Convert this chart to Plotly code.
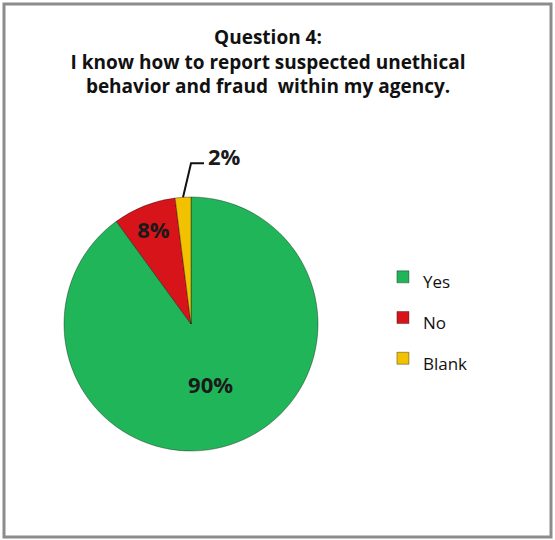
import math
import plotly.graph_objects as go

categories = ["Yes", "No", "Blank"]
values = [90, 8, 2]
colors = ["#21b559", "#d8141b", "#f2c100"]
title_lines = ["Question 4:", "I know how to report suspected unethical", "behavior and fraud  within my agency."]

W, H = 555, 540
cx, cy, r = 191, 324, 127  # pie placement (pixels)

dom_x = [(cx - r) / W, (cx + r) / W]
dom_y = [1 - (cy + r) / H, 1 - (cy - r) / H]

label_font = dict(family="Open Sans", size=22, color="#1a1a1a", weight="bold")

fig = go.Figure()
fig.add_trace(go.Pie(
    labels=[f'<span style="font-size:17px">{c}</span>' for c in categories],
    values=values,
    sort=False,
    direction="clockwise",
    rotation=0,
    marker=dict(colors=colors, line=dict(color="rgba(0,0,0,0.35)", width=1)),
    texttemplate=["%{value}%", "%{value}%", ""],
    textposition="inside",
    insidetextorientation="horizontal",
    textfont=label_font,
    domain=dict(x=dom_x, y=dom_y),
    hoverinfo="skip",
))

# leader line + label for the small "Blank" slice, derived from the data
total = sum(values)
start = sum(values[:2]) / total
mid = (start + values[2] / total / 2) * 2 * math.pi
ex = cx + r * math.sin(mid)
ey = cy - r * math.cos(mid)
kx, ky = ex + 8, ey - 34
hx = kx + 13
path = f"M {ex/W},{1-ey/H} L {kx/W},{1-ky/H} L {hx/W},{1-ky/H}"
fig.add_shape(type="path", xref="paper", yref="paper", path=path,
              line=dict(color="#111111", width=2))
fig.add_annotation(x=(hx + 2) / W, y=1 - (ky - 7) / H, xref="paper", yref="paper",
                   text=f"<b>{values[2]}%</b>", showarrow=False, xanchor="left", yanchor="middle",
                   font=label_font)

# outer frame
fig.add_shape(type="rect", xref="paper", yref="paper",
              x0=4 / W, x1=551 / W, y0=1 - 537 / H, y1=1 - 4 / H,
              line=dict(color="#8c8c8c", width=3))

fig.update_layout(
    width=W, height=H,
    margin=dict(l=0, r=0, t=0, b=0),
    paper_bgcolor="white",
    plot_bgcolor="white",
    title=dict(
        text="<b>" + "<br>".join(title_lines) + "</b>",
        x=268 / W, xanchor="center",
        y=1 - 44 / H, yanchor="top",
        font=dict(family="Open Sans", size=19, color="#111111"),
    ),
    legend=dict(
        x=0.69, xanchor="left",
        y=1 - 318 / H, yanchor="middle",
        font=dict(family="Open Sans", size=29, color="#111111"),
        bgcolor="rgba(0,0,0,0)",
    ),
    showlegend=True,
)

fig.write_html("out.html")
